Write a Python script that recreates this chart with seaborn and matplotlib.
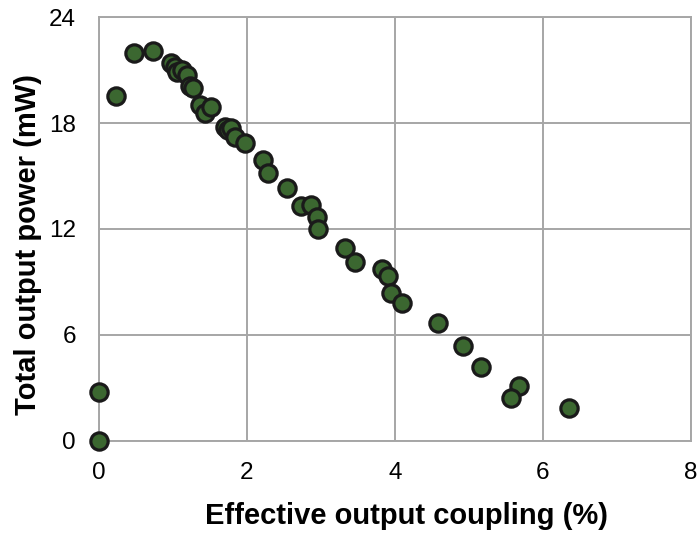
import matplotlib
matplotlib.use("Agg")
import matplotlib.pyplot as plt
import seaborn as sns
import pandas as pd

# Measured laser output vs. effective output coupling
coupling_pct = [0.00, 0.00, 0.23, 0.47, 0.73, 0.98, 1.03, 1.05, 1.12, 1.19,
                1.23, 1.27, 1.36, 1.43, 1.51, 1.70, 1.75, 1.79, 1.84, 1.98,
                2.22, 2.29, 2.54, 2.73, 2.86, 2.94, 2.96, 3.32, 3.46, 3.82,
                3.91, 3.95, 4.10, 4.58, 4.92, 5.16, 5.68, 5.57, 6.35]
power_mw = [0.00, 2.76, 19.55, 22.0, 22.1, 21.38, 21.19, 20.9, 21.0, 20.7,
            20.1, 19.97, 19.0, 18.6, 18.9, 17.8, 17.6, 17.7, 17.2, 16.9,
            15.9, 15.15, 14.3, 13.3, 13.35, 12.7, 12.0, 10.9, 10.15, 9.73,
            9.35, 8.35, 7.78, 6.65, 5.37, 4.16, 3.12, 2.44, 1.84]

x_ticks = [0, 2, 4, 6, 8]
y_ticks = [0, 6, 12, 18, 24]

df = pd.DataFrame({"coupling": coupling_pct, "power": power_mw})

sns.set_theme(style="white")
plt.rcParams["font.family"] = ["Liberation Sans", "DejaVu Sans"]

fig = plt.figure(figsize=(6.98, 5.36), dpi=100)
ax = fig.add_axes([0.1418, 0.1778, 0.848, 0.790])

sns.scatterplot(data=df, x="coupling", y="power", ax=ax, s=155,
                color="#3B6730", edgecolor="#1a1a1a", linewidth=2.3,
                clip_on=False, zorder=3)

ax.set_xlim(0, 8)
ax.set_ylim(0, 24)
ax.set_xticks(x_ticks)
ax.set_yticks(y_ticks)
ax.set_xticklabels([str(t) for t in x_ticks])
ax.set_yticklabels([str(t) for t in y_ticks])
ax.tick_params(axis="both", length=0, labelsize=17.5, colors="black")
ax.tick_params(axis="x", pad=15.5)
ax.tick_params(axis="y", pad=16.5)

ax.grid(True, color="#a6a6a6", linewidth=1.4)
ax.set_axisbelow(True)
for sp in ax.spines.values():
    sp.set_color("#a6a6a6")
    sp.set_linewidth(1.4)

ax.set_xlabel("Effective output coupling (%)", fontsize=21, fontweight="bold",
              color="black", va="center")
ax.set_ylabel("Total output power (mW)", fontsize=21, fontweight="bold",
              color="black", va="center")
ax.xaxis.set_label_coords(0.519, -0.177)
ax.yaxis.set_label_coords(-0.12, 0.464)

fig.savefig("out.png", dpi=100)
